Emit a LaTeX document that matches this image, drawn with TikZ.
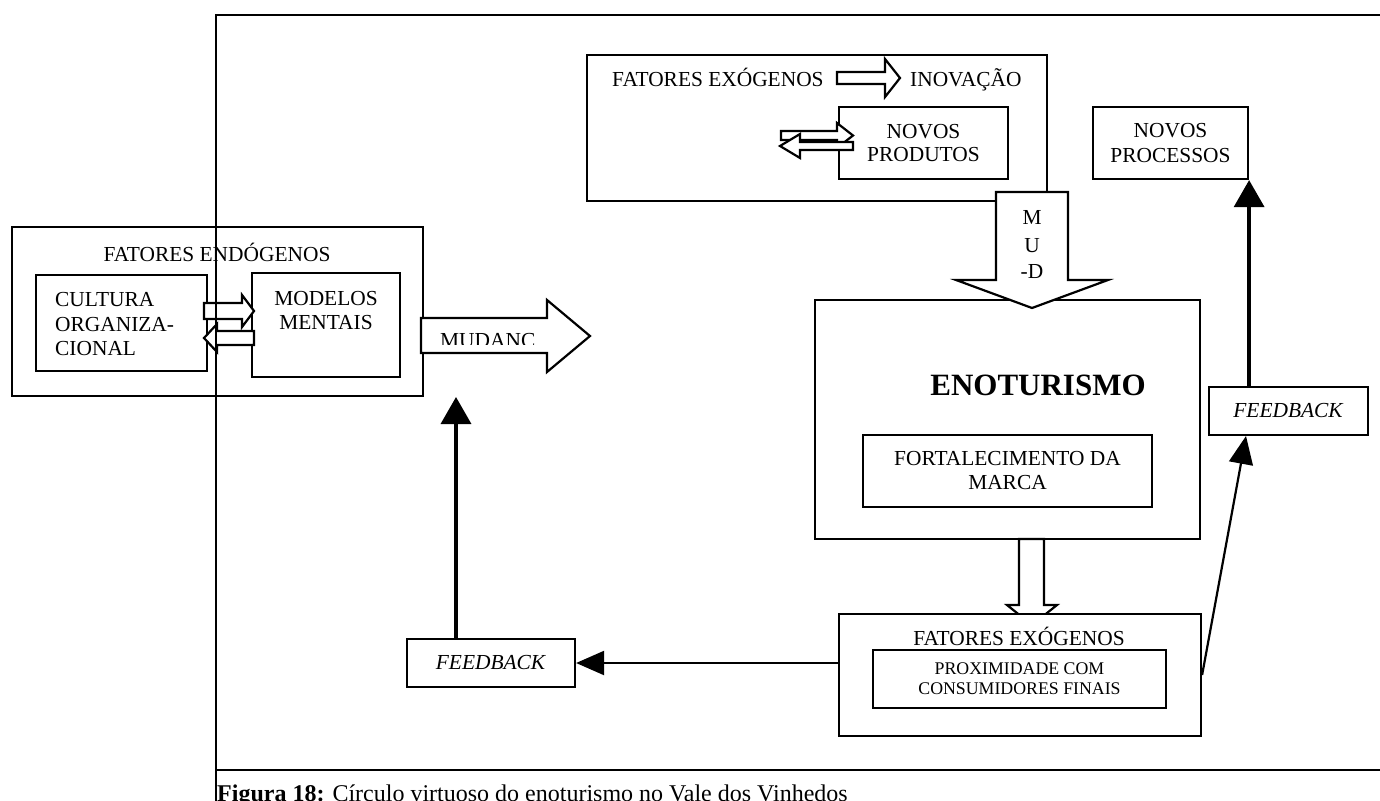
\documentclass[tikz,border=0pt]{standalone}
\usepackage{fontspec}
\setmainfont{Liberation Serif}
\usetikzlibrary{arrows.meta}
\tikzset{
  caixa/.style={draw, line width=2.2pt, inner sep=0pt, align=center,
    font=\fontsize{21.4}{24}\selectfont},
  rotulo/.style={inner sep=0pt, font=\fontsize{21.4}{24.5}\selectfont},
  oca/.style={draw, line width=2.2pt, line join=miter, fill=white},
  seta/.style={line width=3.5pt, -{Triangle[length=27pt,width=30pt]}},
  setafina/.style={line width=2.2pt, -{Triangle[length=28pt,width=24pt]}}
}
\begin{document}
\begin{tikzpicture}[x=1pt,y=-1pt]
\useasboundingbox (0,0) rectangle (1380,800);

% fatores exogenos (topo)
\node[caixa, minimum width=460pt, minimum height=146pt] (topo) at (817,128) {};
\node[rotulo, anchor=base west] (exoT) at (612,86) {FATORES EXÓGENOS};
\node[rotulo, anchor=base west] (inov) at (910,86) {INOVAÇÃO};
\draw[oca] (837,72) -- (885,72) -- (885,59) -- (900,78) -- (885,97) -- (885,84) -- (837,84) -- cycle;
\node[caixa, minimum width=169pt, minimum height=72pt,
  font=\fontsize{21.4}{23}\selectfont] (prod) at (923.5,143) {NOVOS\\PRODUTOS};
\draw[oca] (781,131) -- (837,131) -- (837,123) -- (853,135.5) -- (837,148) -- (837,140) -- (781,140) -- cycle;
\draw[oca] (853,142) -- (800,142) -- (800,134) -- (780,146) -- (800,158) -- (800,150) -- (853,150) -- cycle;
\node[caixa, minimum width=155pt, minimum height=72pt,
  font=\fontsize{21.4}{25}\selectfont] (procs) at (1170.5,143) {NOVOS\\PROCESSOS};

% enoturismo
\node[caixa, minimum width=385pt, minimum height=239pt] (enot) at (1007.5,419.5) {};
\node[anchor=base, inner sep=0pt, font=\fontsize{31}{36}\selectfont\bfseries] (tit) at (1038,395) {ENOTURISMO};
\node[caixa, minimum width=289pt, minimum height=72pt] (marca) at (1007.5,471) {FORTALECIMENTO DA\\MARCA};

% seta M U -D
\draw[oca] (996,192) -- (1068,192) -- (1068,280) -- (1108,280) -- (1032,308) -- (956,280) -- (996,280) -- cycle;
\node[rotulo, anchor=base] (mM) at (1032,224) {M};
\node[rotulo, anchor=base] (mU) at (1032,252) {U};
\node[rotulo, anchor=base] (mD) at (1032,278) {-D};

% fatores exogenos (baixo)
\draw[oca] (1019,539) -- (1044,539) -- (1044,605) -- (1057,605) -- (1032,625) -- (1007,605) -- (1019,605) -- cycle;
\node[caixa, fill=white, minimum width=362pt, minimum height=122pt] (exoB) at (1020,675) {};
\node[rotulo, anchor=base] (exoBt) at (1019,645) {FATORES EXÓGENOS};
\node[caixa, minimum width=293pt, minimum height=58pt,
  font=\fontsize{17.8}{20}\selectfont] (prox) at (1019.5,679) {PROXIMIDADE COM\\CONSUMIDORES FINAIS};

% fatores endogenos
\node[caixa, minimum width=411pt, minimum height=169pt] (endo) at (217.5,311.5) {};
\node[rotulo, anchor=base] (endoT) at (217,261) {FATORES ENDÓGENOS};
\node[caixa, minimum width=171pt, minimum height=96pt] (cult) at (121.5,323) {};
\node[rotulo, anchor=west, align=left] (cultT) at (55,324.5) {CULTURA\\ORGANIZA-\\CIONAL};
\node[caixa, minimum width=148pt, minimum height=104pt] (mod) at (326,325) {};
\node[rotulo, align=center] (modT) at (326,310.5) {MODELOS\\MENTAIS};
\draw[oca] (204,303) -- (242,303) -- (242,295) -- (254,311) -- (242,327) -- (242,319) -- (204,319) -- cycle;
\draw[oca] (254,331) -- (217,331) -- (217,324) -- (204,338) -- (217,352) -- (217,345) -- (254,345) -- cycle;

% mudanca
\draw[oca] (421,318) -- (547,318) -- (547,300) -- (590,336) -- (547,372) -- (547,353) -- (421,353) -- cycle;
\begin{scope}
\clip (436,322) rectangle (540,344);
\node[rotulo, anchor=base west] (mudanca) at (440,347) {MUDANC};
\end{scope}

% feedback
\node[caixa, minimum width=168pt, minimum height=48pt] (feedL) at (491,663) {\textit{FEEDBACK}};
\node[caixa, minimum width=159pt, minimum height=48pt] (feedR) at (1288.5,411) {\textit{FEEDBACK}};
\coordinate (alvoL) at (456,397);
\coordinate (pontaR) at (1246,436);
\draw[seta] (feedL.north -| alvoL) -- (alvoL);
\draw[setafina] (exoB.west |- feedL.east) -- (feedL.east);
\draw[setafina] (exoB.east) -- (pontaR);
\draw[seta] (feedR.north -| procs.south east) -- (procs.south east);

% moldura e legenda
\draw[line width=2.5pt] (1390,15) -- (216,15) -- (216,805);
\draw[line width=2pt] (216,770) -- (1390,770);
\node[anchor=base west, inner sep=0pt, font=\fontsize{24}{28}\selectfont] (legenda) at (217,801)
  {\textbf{Figura 18:} Círculo virtuoso do enoturismo no Vale dos Vinhedos};
\end{tikzpicture}
\end{document}
